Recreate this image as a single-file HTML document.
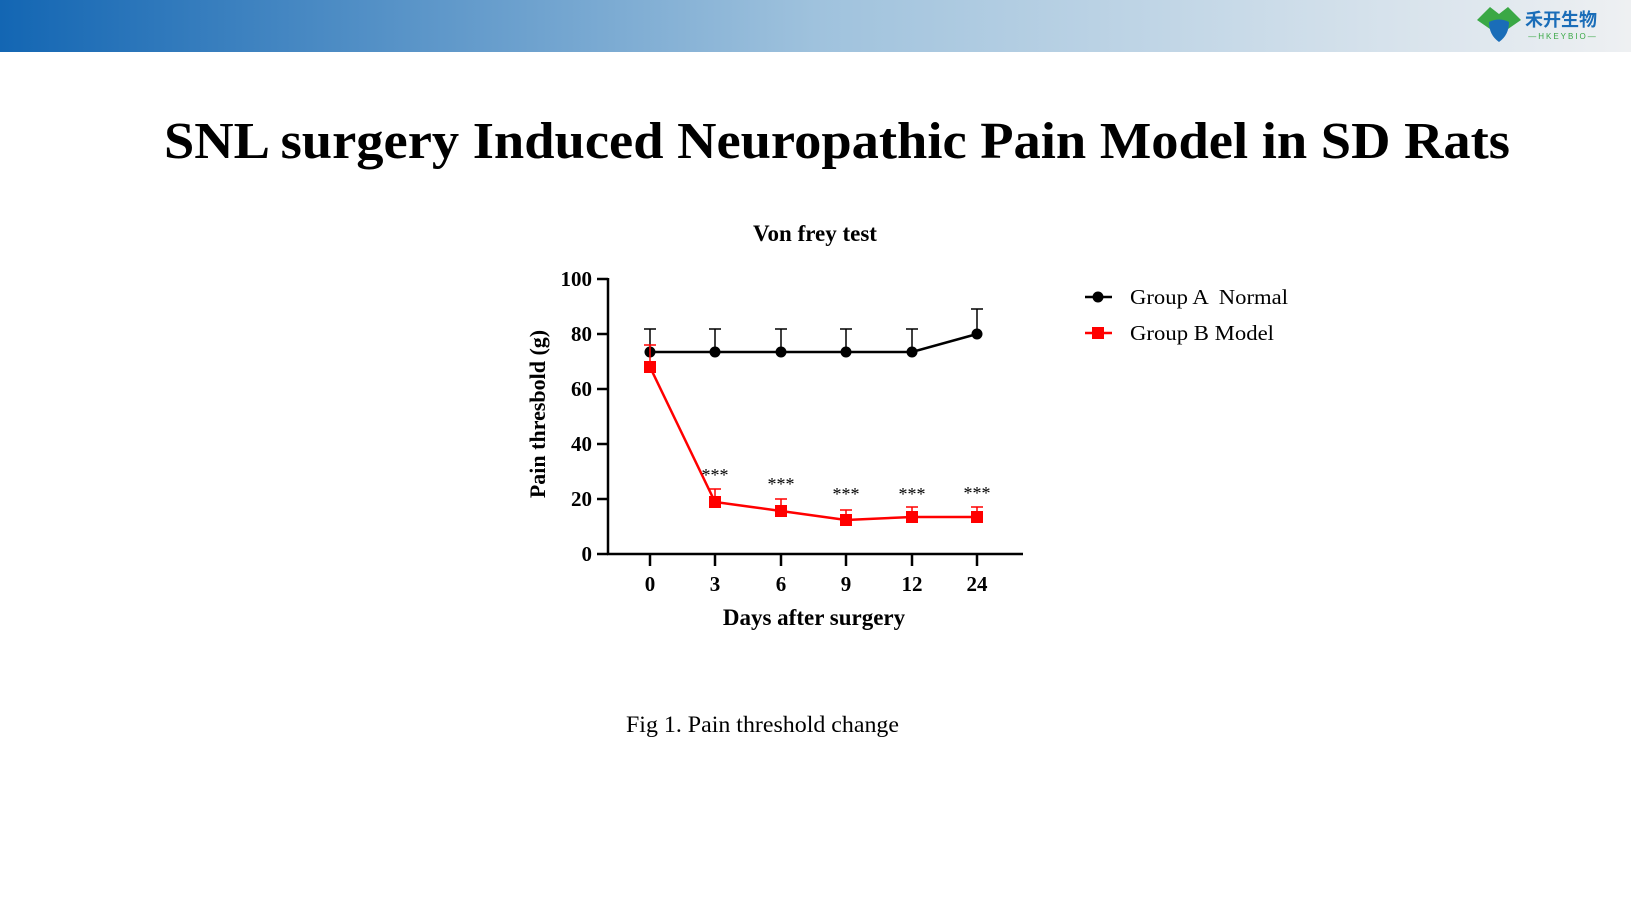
<!DOCTYPE html>
<html><head><meta charset="utf-8"><style>
html,body{margin:0;padding:0;background:#fff;width:1631px;height:912px;overflow:hidden}
</style></head><body>
<svg width="1631" height="912" viewBox="0 0 1631 912" xmlns="http://www.w3.org/2000/svg" font-family="Liberation Serif, serif">
<defs><linearGradient id="g" x1="0" x2="1"><stop offset="0" stop-color="#1366b3"/><stop offset="0.5" stop-color="#9fc2dd"/><stop offset="1" stop-color="#eef0f2"/></linearGradient></defs>
<rect x="0" y="0" width="1631" height="52" fill="url(#g)"/>
<path d="M1477 20 L1490 7 L1499 14 L1508 7 L1521 20 L1508 29 L1490 29 Z" fill="#3aa845"/>
<path d="M1489 22 Q1499 17 1509 22 Q1509 35 1499 42 Q1489 35 1489 22Z" fill="#1a6db8"/>
<text x="1525" y="26" font-family="Liberation Sans, Noto Sans CJK SC, sans-serif" font-weight="bold" font-size="18" fill="#1a6db8">禾开生物</text>
<text x="1563" y="39" text-anchor="middle" font-family="Liberation Sans, sans-serif" font-size="8" fill="#3aa845" letter-spacing="2">—HKEYBIO—</text>
<text x="837" y="158" text-anchor="middle" font-weight="bold" font-size="52" textLength="1346" lengthAdjust="spacingAndGlyphs">SNL surgery Induced Neuropathic Pain Model in SD Rats</text>
<text x="815" y="241" text-anchor="middle" font-weight="bold" font-size="23">Von frey test</text>
<g stroke="#000" stroke-width="2.5" fill="none">
<line x1="608" y1="278" x2="608" y2="555"/>
<line x1="607" y1="554" x2="1023" y2="554"/>
<line x1="597" y1="279" x2="608" y2="279"/><line x1="597" y1="334" x2="608" y2="334"/><line x1="597" y1="389" x2="608" y2="389"/><line x1="597" y1="444" x2="608" y2="444"/><line x1="597" y1="499" x2="608" y2="499"/><line x1="597" y1="554" x2="608" y2="554"/>
<line x1="650" y1="554" x2="650" y2="566"/><line x1="715" y1="554" x2="715" y2="566"/><line x1="781" y1="554" x2="781" y2="566"/><line x1="846" y1="554" x2="846" y2="566"/><line x1="912" y1="554" x2="912" y2="566"/><line x1="977" y1="554" x2="977" y2="566"/>
</g>
<g font-weight="bold" font-size="21" text-anchor="end">
<text x="592" y="286">100</text><text x="592" y="341">80</text><text x="592" y="396">60</text><text x="592" y="451">40</text><text x="592" y="506">20</text><text x="592" y="561">0</text>
</g>
<g font-weight="bold" font-size="21" text-anchor="middle">
<text x="650" y="591">0</text><text x="715" y="591">3</text><text x="781" y="591">6</text><text x="846" y="591">9</text><text x="912" y="591">12</text><text x="977" y="591">24</text>
</g>
<text x="814" y="625" text-anchor="middle" font-weight="bold" font-size="23">Days after surgery</text>
<text transform="translate(545,414) rotate(-90)" text-anchor="middle" font-weight="bold" font-size="22">Pain thresbold (g)</text>
<g stroke="#000" stroke-width="1.5">
<line x1="650" y1="352" x2="650" y2="329"/><line x1="644" y1="329" x2="656" y2="329"/>
<line x1="715" y1="352" x2="715" y2="329"/><line x1="709" y1="329" x2="721" y2="329"/>
<line x1="781" y1="352" x2="781" y2="329"/><line x1="775" y1="329" x2="787" y2="329"/>
<line x1="846" y1="352" x2="846" y2="329"/><line x1="840" y1="329" x2="852" y2="329"/>
<line x1="912" y1="352" x2="912" y2="329"/><line x1="906" y1="329" x2="918" y2="329"/>
<line x1="977" y1="334" x2="977" y2="309"/><line x1="971" y1="309" x2="983" y2="309"/>
</g>
<polyline points="650,352 715,352 781,352 846,352 912,352 977,334" fill="none" stroke="#000" stroke-width="2.5"/>
<g fill="#000"><circle cx="650" cy="352" r="5.5"/><circle cx="715" cy="352" r="5.5"/><circle cx="781" cy="352" r="5.5"/><circle cx="846" cy="352" r="5.5"/><circle cx="912" cy="352" r="5.5"/><circle cx="977" cy="334" r="5.5"/></g>
<g stroke="#f00" stroke-width="1.5">
<line x1="650" y1="367" x2="650" y2="345"/><line x1="644" y1="345" x2="656" y2="345"/>
<line x1="715" y1="502" x2="715" y2="489"/><line x1="709" y1="489" x2="721" y2="489"/>
<line x1="781" y1="511" x2="781" y2="499"/><line x1="775" y1="499" x2="787" y2="499"/>
<line x1="846" y1="520" x2="846" y2="510"/><line x1="840" y1="510" x2="852" y2="510"/>
<line x1="912" y1="517" x2="912" y2="507"/><line x1="906" y1="507" x2="918" y2="507"/>
<line x1="977" y1="517" x2="977" y2="507"/><line x1="971" y1="507" x2="983" y2="507"/>
</g>
<polyline points="650,367 715,502 781,511 846,520 912,517 977,517" fill="none" stroke="#f00" stroke-width="2.5"/>
<g fill="#f00"><rect x="644" y="361" width="12" height="12"/><rect x="709" y="496" width="12" height="12"/><rect x="775" y="505" width="12" height="12"/><rect x="840" y="514" width="12" height="12"/><rect x="906" y="511" width="12" height="12"/><rect x="971" y="511" width="12" height="12"/></g>
<g font-size="18" text-anchor="middle">
<text x="715" y="481">***</text><text x="781" y="490">***</text><text x="846" y="500">***</text><text x="912" y="500">***</text><text x="977" y="499">***</text>
</g>
<line x1="1085" y1="297" x2="1112" y2="297" stroke="#000" stroke-width="2.5"/><circle cx="1098" cy="297" r="5.5"/>
<text x="1130" y="304" font-size="21" textLength="158" lengthAdjust="spacingAndGlyphs" xml:space="preserve">Group A  Normal</text>
<line x1="1085" y1="333" x2="1112" y2="333" stroke="#f00" stroke-width="2.5"/><rect x="1092" y="327" width="12" height="12" fill="#f00"/>
<text x="1130" y="340" font-size="21" textLength="144" lengthAdjust="spacingAndGlyphs">Group B Model</text>
<text x="626" y="732" font-size="23" textLength="273" lengthAdjust="spacingAndGlyphs">Fig 1. Pain threshold change</text>
</svg>
</body></html>
